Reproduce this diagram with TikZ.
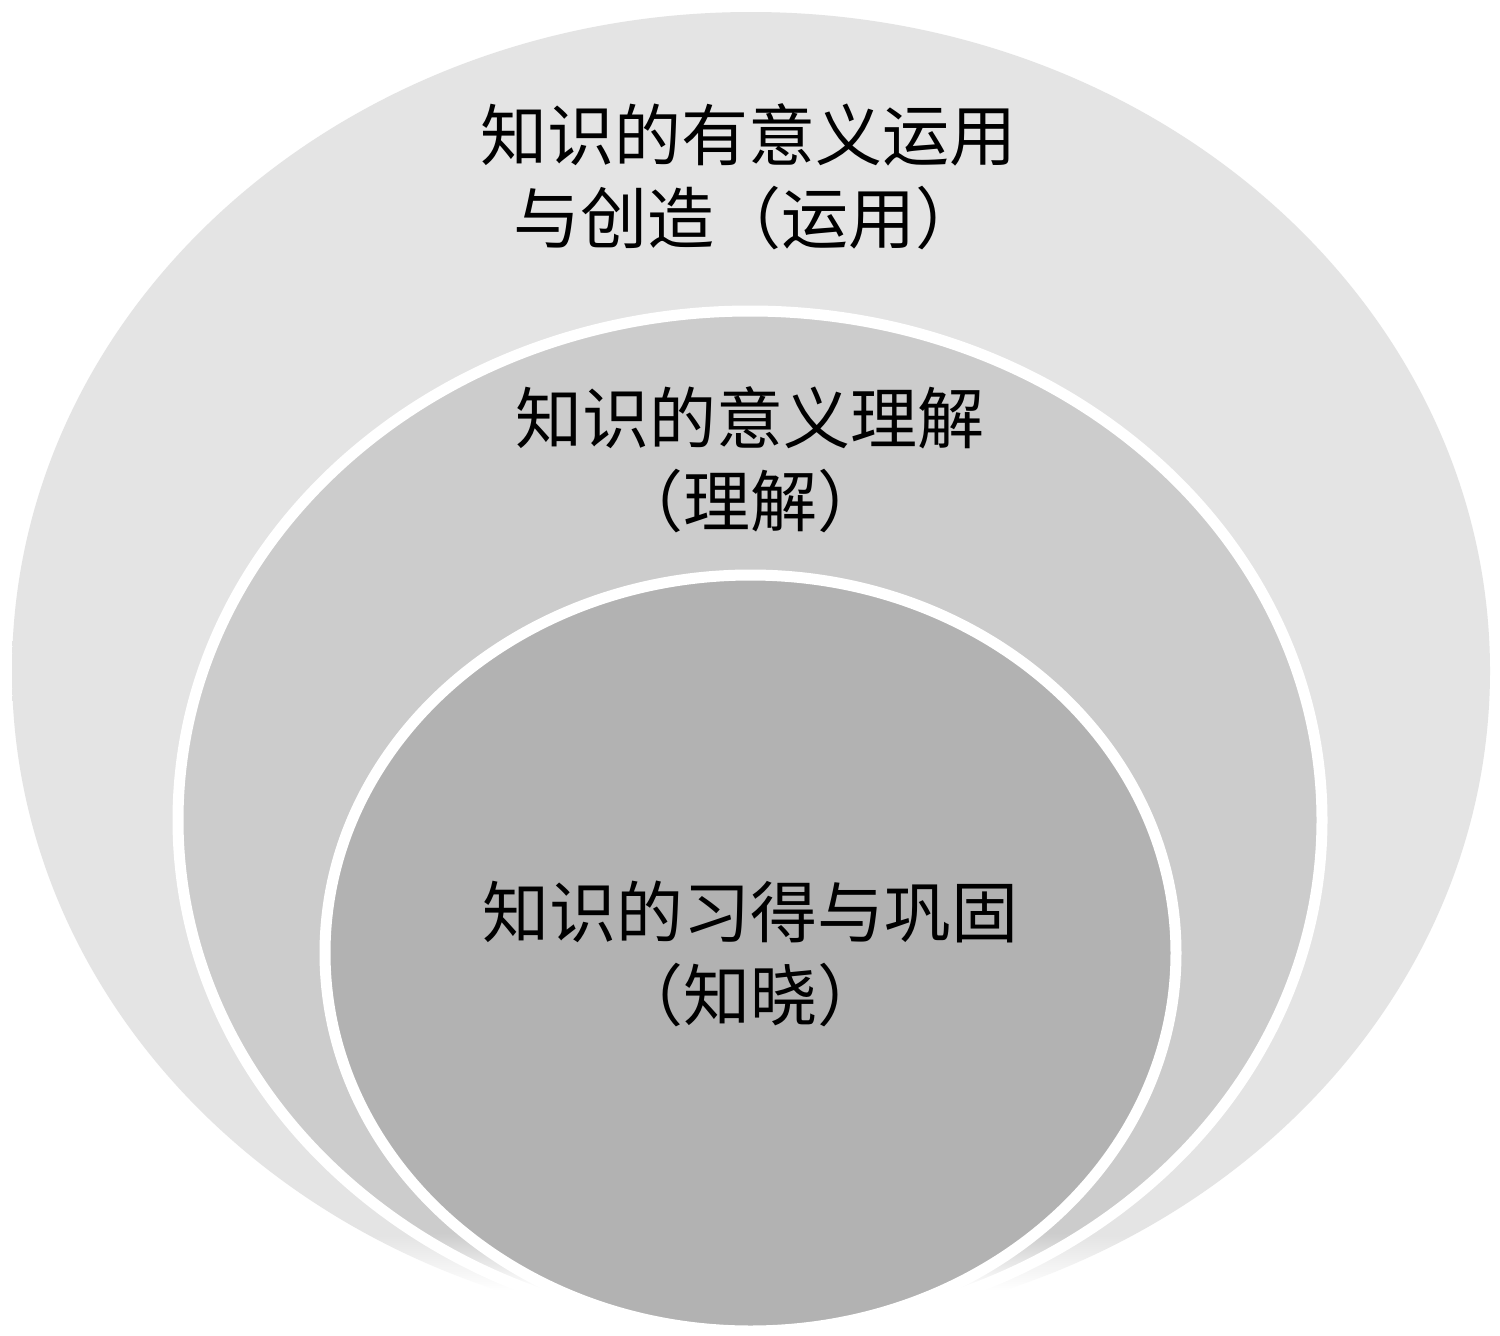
\documentclass[tikz,border=0pt]{standalone}
\usepackage{fontspec}
\newfontfamily\cjk{Noto Sans CJK SC}
\definecolor{outerc}{HTML}{E4E4E4}
\definecolor{midc}{HTML}{CCCCCC}
\definecolor{innerc}{HTML}{B2B2B2}
\pgfdeclareverticalshading{outerfade}{100bp}{color(0bp)=(white); color(26.5bp)=(white); color(28.6bp)=(outerc); color(100bp)=(outerc)}
\pgfdeclareverticalshading{midfade}{100bp}{color(0bp)=(white); color(27.0bp)=(white); color(29.7bp)=(midc); color(100bp)=(midc)}
\tikzset{
  ring/.style={draw=white, line width=11pt},
  lbl/.style={font=\cjk\fontsize{67}{83}\selectfont, align=center, text=black, inner sep=0pt}
}
\begin{document}
\begin{tikzpicture}[x=1pt,y=-1pt]
\useasboundingbox (0,0) rectangle (1500,1336);
\fill[white] (0,0) rectangle (1500,1336);
% outer ellipse
\shade[shading=outerfade] (751,671) ellipse [x radius=739, y radius=659];
% middle ellipse
\shade[shading=midfade] (750,820) ellipse [x radius=572, y radius=509];
\draw[ring] (750,820) ellipse [x radius=572, y radius=509];
% fade white stroke region: redraw fade by covering? (stroke is white anyway)
% inner ellipse
\fill[innerc] (750.5,953) ellipse [x radius=425.5, y radius=378];
\draw[ring] (750.5,953) ellipse [x radius=425.5, y radius=378];
% labels
\node[lbl] (t1) at (748,177) {知识的有意义运用\\与创造（运用）};
\node[lbl] (t2) at (750,460) {知识的意义理解\\（理解）};
\node[lbl] (t3) at (750,954) {知识的习得与巩固\\（知晓）};
\end{tikzpicture}
\end{document}
